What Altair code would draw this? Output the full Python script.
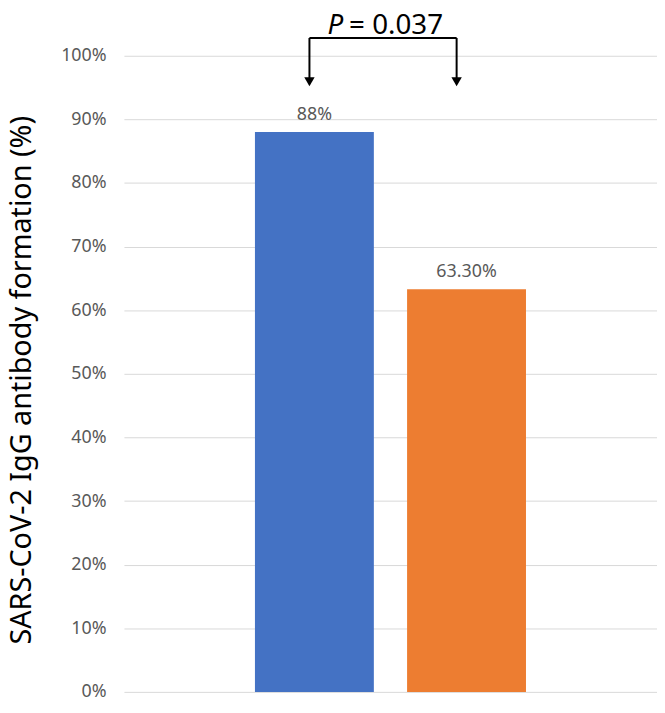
import altair as alt
import pandas as pd

# ---- data ----
groups = ["Group A", "Group B"]
values = [0.88, 0.633]
value_labels = ["88%", "63.30%"]
bar_colors = ["#4472C4", "#ED7D31"]
y_ticks = [0.0, 0.1, 0.2, 0.3, 0.4, 0.5, 0.6, 0.7, 0.8, 0.9, 1.0]

# significance bracket (values on the y scale)
bracket_top = 1.028
arrow_tip = 0.950
p_text_y = 1.035
p_symbol = "P"
p_value_text = "= 0.037"

FONT = "Noto Sans"

df = pd.DataFrame({"group": groups, "value": values, "label": value_labels})

x_scale = alt.Scale(domain=groups, paddingInner=0.218, paddingOuter=0.861)
y_scale = alt.Scale(domain=[0, 1], nice=False)

x_enc = alt.X("group:N", scale=x_scale, axis=None, sort=groups)

bars = alt.Chart(df).mark_bar(size=120).encode(
    x=x_enc,
    y=alt.Y(
        "value:Q",
        scale=y_scale,
        title="SARS-CoV-2 IgG antibody formation (%)",
        axis=alt.Axis(
            values=y_ticks,
            format=".0%",
            domain=False,
            ticks=False,
            grid=True,
            gridColor="#d9d9d9",
            gridWidth=1,
            labelPadding=18,
            labelFont=FONT,
            labelFontSize=18,
            labelColor="#595959",
            titleFont=FONT,
            titleFontSize=29,
            titleFontWeight="normal",
            titleColor="#000000",
            titleAngle=270,
            titleAlign="center",
            titleBaseline="alphabetic",
            titleX=-94,
            titleY=327,
        ),
    ),
    color=alt.Color("group:N", scale=alt.Scale(domain=groups, range=bar_colors), legend=None),
)

labels = alt.Chart(df).mark_text(
    baseline="alphabetic", dy=-12, font=FONT, fontSize=18, color="#595959"
).encode(x=x_enc, y=alt.Y("value:Q", scale=y_scale), text="label:N")

# bracket horizontal line
br_df = pd.DataFrame({"g1": [groups[0]], "g2": [groups[1]], "y": [bracket_top]})
bracket_h = alt.Chart(br_df).mark_rule(
    color="black", strokeWidth=2, xOffset=-5, x2Offset=-10, clip=False
).encode(
    x=alt.X("g1:N", scale=x_scale, axis=None),
    x2="g2:N",
    y=alt.Y("y:Q", scale=y_scale),
)

arrow_layers = []
for g, off in zip(groups, [-5, -10]):
    adf = pd.DataFrame({"group": [g], "tip": [arrow_tip], "top": [bracket_top]})
    shaft = alt.Chart(adf).mark_rule(
        color="black", strokeWidth=2, xOffset=off, yOffset=-6, clip=False
    ).encode(
        x=alt.X("group:N", scale=x_scale, axis=None),
        y=alt.Y("tip:Q", scale=y_scale),
        y2="top:Q",
    )
    head = alt.Chart(adf).mark_point(
        shape="triangle-down", filled=True, size=110, color="black",
        opacity=1, xOffset=off, yOffset=-6, clip=False,
    ).encode(
        x=alt.X("group:N", scale=x_scale, axis=None),
        y=alt.Y("tip:Q", scale=y_scale),
    )
    arrow_layers += [shaft, head]

pdf = pd.DataFrame({"group": [groups[0]], "y": [p_text_y], "p": [p_symbol], "v": [p_value_text]})
p_italic = alt.Chart(pdf).mark_text(
    align="right", baseline="alphabetic", dx=29, font=FONT, fontSize=28,
    fontStyle="italic", color="black", clip=False,
).encode(x=alt.X("group:N", scale=x_scale, axis=None), y=alt.Y("y:Q", scale=y_scale), text="p:N")
p_rest = alt.Chart(pdf).mark_text(
    align="left", baseline="alphabetic", dx=35, font=FONT, fontSize=28, color="black", clip=False,
).encode(x=alt.X("group:N", scale=x_scale, axis=None), y=alt.Y("y:Q", scale=y_scale), text="v:N")

chart = alt.layer(bars, labels, bracket_h, *arrow_layers, p_italic, p_rest).properties(
    width=538,
    height=642,
    autosize=alt.AutoSizeParams(type="none"),
    padding={"left": 117, "top": 45, "right": 0, "bottom": 8},
).configure_view(stroke=None, clip=False)

chart.save("out.html", embed_options={"renderer": "svg", "actions": False})
